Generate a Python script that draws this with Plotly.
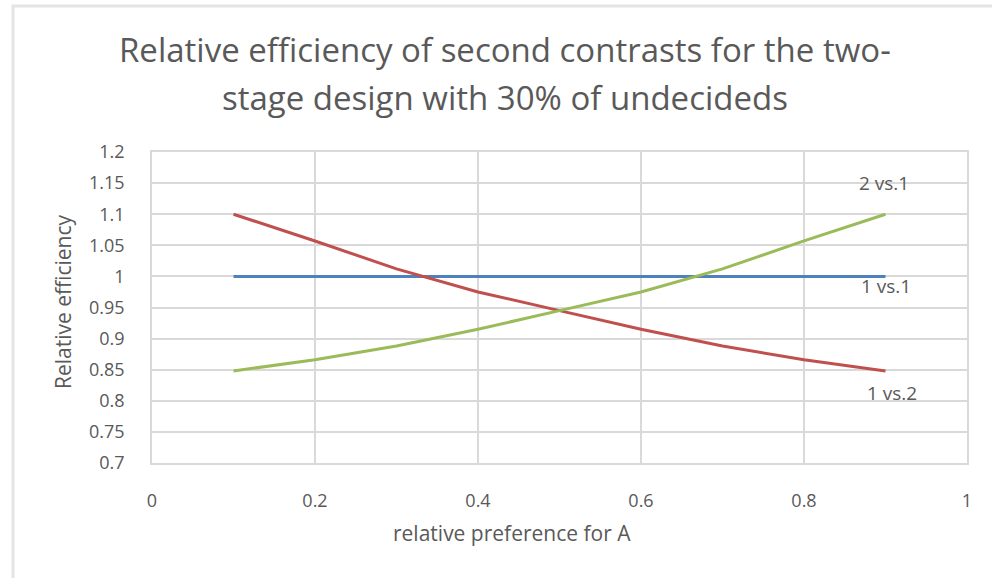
import plotly.graph_objects as go

# Relative preference for A (x) and the relative efficiency of each contrast
pref_a = [0.1, 0.2, 0.3, 0.4, 0.5, 0.6, 0.7, 0.8, 0.9]
eff_1vs1 = [1.0, 1.0, 1.0, 1.0, 1.0, 1.0, 1.0, 1.0, 1.0]
eff_1vs2 = [1.1, 1.057, 1.012, 0.975, 0.945, 0.915, 0.888, 0.866, 0.848]
eff_2vs1 = [0.848, 0.866, 0.888, 0.915, 0.945, 0.975, 1.012, 1.057, 1.1]

x_ticks = [0, 0.2, 0.4, 0.6, 0.8, 1]
x_tick_text = ["0", "0.2", "0.4", "0.6", "0.8", "1"]
y_ticks = [0.7, 0.75, 0.8, 0.85, 0.9, 0.95, 1.0, 1.05, 1.1, 1.15, 1.2]
y_tick_text = ["0.7", "0.75", "0.8", "0.85", "0.9", "0.95", "1", "1.05", "1.1", "1.15", "1.2"]

FONT = "Open Sans"
GREY = "#595959"
GRID = "#d9d9d9"

series = [
    ("1 vs.1", eff_1vs1, "#4f81bd", -10, 0),
    ("1 vs.2", eff_1vs2, "#c0504d", -22, 6),
    ("2 vs.1", eff_2vs1, "#9bbb59", 31, -2),
]

fig = go.Figure()
for name, ys, color, _, _ in series:
    fig.add_trace(go.Scatter(
        x=pref_a, y=ys, mode="lines", name=name,
        line=dict(color=color, width=3),
        hoverinfo="x+y+name",
    ))

# End-of-line data labels
for name, ys, color, yshift, xshift in series:
    fig.add_annotation(
        x=pref_a[-1], y=ys[-1], xref="x", yref="y",
        text=name, showarrow=False, yshift=yshift, xshift=xshift,
        font=dict(family=FONT, size=19, color=GREY),
    )

L, R, T, B = 152, 25, 152, 115
W, H = 992, 578
pw, ph = W - L - R, H - T - B

def px(xp):
    return (xp - L) / pw

def py(yp):
    return (H - B - yp) / ph

# Title (two lines) and x-axis title, centred on the chart frame
fig.add_annotation(
    x=px(505), y=py(50), xref="paper", yref="paper",
    text="Relative efficiency of second contrasts for the two-",
    showarrow=False, xanchor="center", yanchor="middle",
    font=dict(family=FONT, size=33, color=GREY),
)
fig.add_annotation(
    x=px(505), y=py(97), xref="paper", yref="paper",
    text="stage design with 30% of undecideds",
    showarrow=False, xanchor="center", yanchor="middle",
    font=dict(family=FONT, size=33, color=GREY),
)
fig.add_annotation(
    x=px(512), y=py(533), xref="paper", yref="paper",
    text="relative preference for A",
    showarrow=False, xanchor="center", yanchor="middle",
    font=dict(family=FONT, size=21, color=GREY),
)
fig.add_annotation(
    x=px(63), y=py(302), xref="paper", yref="paper",
    text="Relative efficiency", textangle=-90,
    showarrow=False, xanchor="center", yanchor="middle",
    font=dict(family=FONT, size=21, color=GREY),
)

# Chart frame
fig.add_shape(
    type="rect", xref="paper", yref="paper",
    x0=px(13), y0=py(640), x1=px(1060), y1=py(6),
    line=dict(color="#e4e4e4", width=3), layer="below",
)

fig.update_layout(
    width=W, height=H,
    margin=dict(l=L, r=R, t=T, b=B, pad=0),
    paper_bgcolor="white", plot_bgcolor="white",
    showlegend=False,
    font=dict(family=FONT, color=GREY),
    xaxis=dict(
        range=[0, 1], tickvals=x_ticks, ticktext=x_tick_text,
        showgrid=True, gridcolor=GRID, gridwidth=1.5,
        showline=True, mirror=True, linecolor=GRID, linewidth=1.5,
        zeroline=False, ticks="",
        tickfont=dict(family=FONT, size=18, color=GREY),
        ticklabelstandoff=21,
    ),
    yaxis=dict(
        range=[0.7, 1.2], tickvals=y_ticks, ticktext=y_tick_text,
        showgrid=True, gridcolor=GRID, gridwidth=1.5,
        showline=True, mirror=True, linecolor=GRID, linewidth=1.5,
        zeroline=False, ticks="",
        tickfont=dict(family=FONT, size=18, color=GREY),
        ticklabelstandoff=22,
    ),
)

fig.write_html("out.html")
